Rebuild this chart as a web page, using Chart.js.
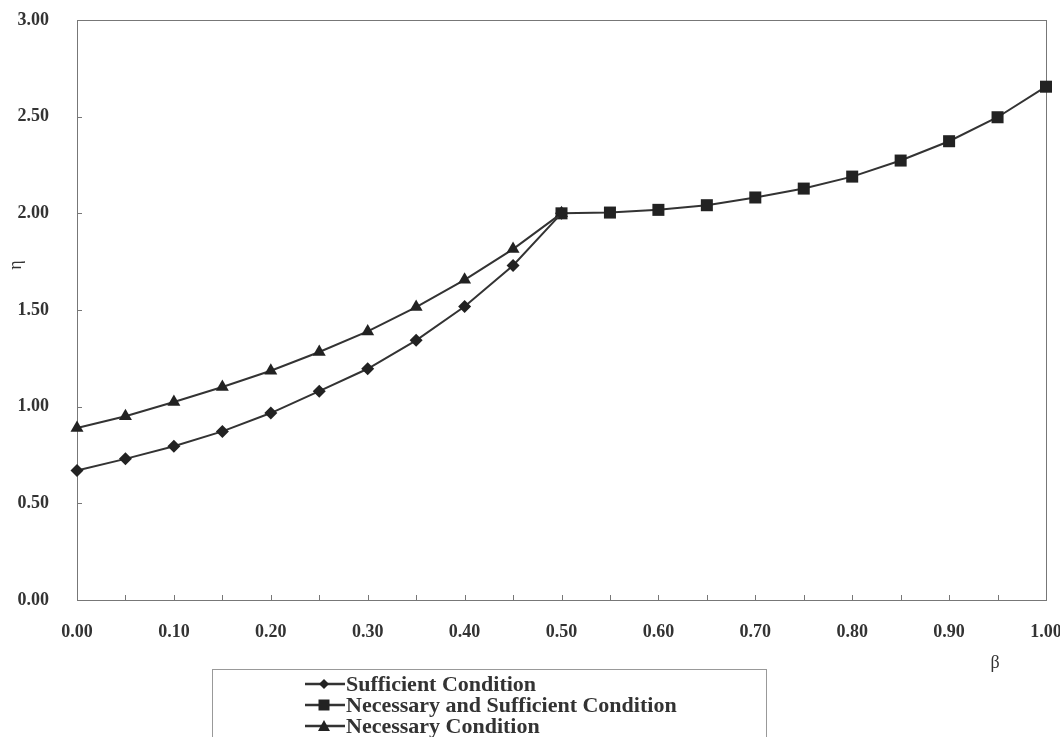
<!DOCTYPE html>
<html>
<head>
<meta charset="utf-8">
<script src="https://cdn.jsdelivr.net/npm/chart.js@4.4.0/dist/chart.umd.min.js"></script>
<style>
  html, body { margin: 0; padding: 0; background: #fff; }
  #wrap { position: relative; width: 1060px; height: 737px; }
</style>
</head>
<body>
<div id="wrap"><canvas id="eta"></canvas></div>
<script>
// beta values
const betaLow = [0.00, 0.05, 0.10, 0.15, 0.20, 0.25, 0.30, 0.35, 0.40, 0.45, 0.50]
const betaHigh = [0.50, 0.55, 0.60, 0.65, 0.70, 0.75, 0.80, 0.85, 0.90, 0.95, 1.00]

// eta values
const sufficient = [0.67, 0.73, 0.795, 0.872, 0.967, 1.08, 1.196, 1.343, 1.518, 1.73, 2.00]
const necSuff = [2.00, 2.004, 2.018, 2.042, 2.082, 2.128, 2.19, 2.273, 2.373, 2.497, 2.655]
const necessary = [0.89, 0.95, 1.024, 1.102, 1.186, 1.283, 1.389, 1.515, 1.656, 1.815, 2.00]

const seriesNames = ['Sufficient Condition', 'Necessary and Sufficient Condition', 'Necessary Condition']
const xTicks = [0.0, 0.1, 0.2, 0.3, 0.4, 0.5, 0.6, 0.7, 0.8, 0.9, 1.0]
const xMinorTicks = [0.05, 0.15, 0.25, 0.35, 0.45, 0.55, 0.65, 0.75, 0.85, 0.95]
const yTicks = [0, 0.5, 1.0, 1.5, 2.0, 2.5, 3.0]

const ink = '#333'
const font = 'Liberation Serif, Times New Roman, serif'

function pts(xs, ys) {
  return xs.map((x, i) => ({x: x, y: ys[i]}))
}

function marker(ctx, style, x, y) {
  ctx.beginPath()
  if (style === 'rectRot') {
    ctx.moveTo(x, y - 5); ctx.lineTo(x + 5, y); ctx.lineTo(x, y + 5); ctx.lineTo(x - 5, y)
  } else if (style === 'rect') {
    ctx.rect(x - 5.5, y - 5.5, 11, 11)
  } else {
    ctx.moveTo(x, y - 6); ctx.lineTo(x + 6, y + 5); ctx.lineTo(x - 6, y + 5)
  }
  ctx.closePath()
  ctx.fill()
}

// frame, inward ticks, axis titles and the boxed legend
const decor = {
  id: 'decor',
  beforeDatasetsDraw(chart) {
    const ctx = chart.ctx
    const a = chart.chartArea
    const xs = chart.scales.x, ys = chart.scales.y
    ctx.save()
    ctx.strokeStyle = '#777'
    ctx.lineWidth = 1
    ctx.strokeRect(a.left + 0.5, a.top + 0.5, a.right - a.left, a.bottom - a.top)
    ctx.beginPath()
    xTicks.concat(xMinorTicks).forEach(v => {
      const px = Math.round(xs.getPixelForValue(v)) + 0.5
      ctx.moveTo(px, a.bottom); ctx.lineTo(px, a.bottom - 5)
    })
    yTicks.forEach(v => {
      const py = Math.round(ys.getPixelForValue(v)) + 0.5
      ctx.moveTo(a.left, py); ctx.lineTo(a.left + 5, py)
    })
    ctx.stroke()
    ctx.restore()
  },
  afterDraw(chart) {
    const ctx = chart.ctx
    ctx.save()
    ctx.fillStyle = ink
    ctx.font = '18px ' + font
    ctx.textAlign = 'center'
    ctx.textBaseline = 'middle'
    ctx.fillText('β', 995, 663)
    ctx.save()
    ctx.translate(16, 265)
    ctx.rotate(-Math.PI / 2)
    ctx.fillText('η', 0, 0)
    ctx.restore()

    // legend: Sufficient, Necessary and Sufficient, Necessary
    ctx.strokeStyle = '#999'
    ctx.lineWidth = 1
    ctx.strokeRect(212.5, 669.5, 554, 80)
    ctx.font = 'bold 22px ' + font
    ctx.textAlign = 'left'
    const order = [0, 2, 1]
    order.forEach((di, i) => {
      const ds = chart.data.datasets[di]
      const y = 684 + i * 21
      ctx.strokeStyle = ink
      ctx.lineWidth = 2.5
      ctx.beginPath(); ctx.moveTo(305, y); ctx.lineTo(345, y); ctx.stroke()
      ctx.fillStyle = '#222'
      marker(ctx, ds.pointStyle, 324, y)
      ctx.fillStyle = ink
      ctx.fillText(ds.label, 346, y + 1)
    })
    ctx.restore()
  }
}

const ctxEta = document.getElementById('eta')
if(ctxEta) {
  const line = (label, data, style, radius) => ({
    label: label,
    data: data,
    borderColor: ink,
    backgroundColor: '#222',
    borderWidth: 2,
    pointStyle: style,
    pointRadius: radius,
    pointBorderWidth: 0,
    tension: 0,
    clip: false,
  })

  const eta = {
    type: 'line',
    data: {
      datasets: [
        line(seriesNames[0], pts(betaLow, sufficient), 'rectRot', 6.5),
        line(seriesNames[2], pts(betaLow, necessary), 'triangle', 7.5),
        line(seriesNames[1], pts(betaHigh, necSuff), 'rect', 8.5),
      ],
    },
    options: {
      responsive: false,
      animation: false,
      layout: { padding: { top: 20, right: 14, left: 0, bottom: 0 } },
      plugins: {
        legend: { display: false },
        tooltip: { enabled: false },
      },
      scales: {
        x: {
          type: 'linear',
          min: 0, max: 1,
          grid: { display: false },
          border: { display: false },
          afterBuildTicks: s => { s.ticks = xTicks.map(v => ({value: v})) },
          afterFit: s => { s.height = 137; s.paddingLeft = 0; s.paddingRight = 0 },
          ticks: {
            padding: 14,
            color: ink,
            font: { family: font, size: 18, weight: 'bold' },
            callback: v => v.toFixed(2),
          },
        },
        y: {
          min: 0, max: 3,
          grid: { display: false },
          border: { display: false },
          afterBuildTicks: s => { s.ticks = yTicks.map(v => ({value: v})) },
          afterFit: s => { s.width = 77; s.paddingTop = 0; s.paddingBottom = 0 },
          ticks: {
            padding: 20,
            color: ink,
            font: { family: font, size: 18, weight: 'bold' },
            callback: v => v.toFixed(2),
          },
        },
      },
    },
    plugins: [decor],
  }

  ctxEta.width = 1060
  ctxEta.height = 737
  window.myLine = new Chart(ctxEta, eta)
}
</script>
</body>
</html>
